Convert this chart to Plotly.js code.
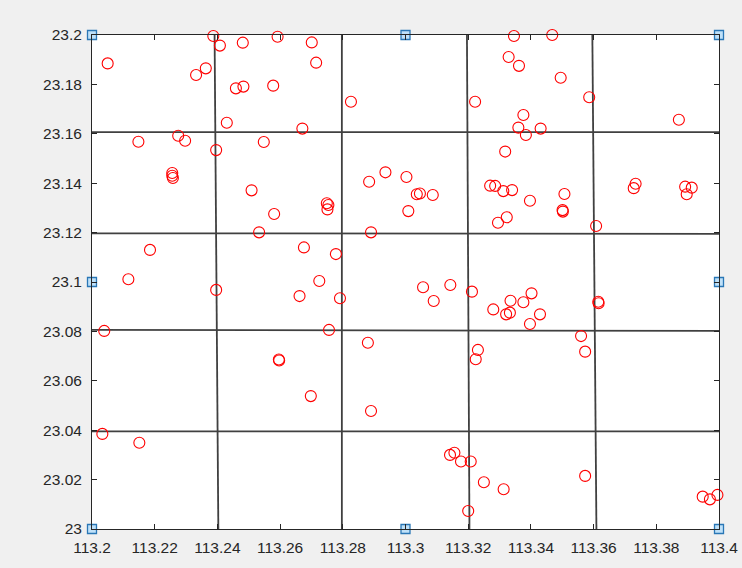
<!DOCTYPE html>
<html>
<head>
<meta charset="utf-8">
<script src="https://cdn.plot.ly/plotly-3.0.1.min.js"></script>
<style>
html,body{margin:0;padding:0;background:#f0f0f0;}
#chart{width:742px;height:568px;}
</style>
</head>
<body>
<div id="chart"></div>
<script>
// Scatter points (longitude, latitude)
const lon = [
113.2050,113.2387,113.2408,113.2481,113.2592,113.2363,113.2332,113.2459,113.2483,113.2578,
113.2430,113.2671,113.2148,113.2275,113.2297,113.2396,113.2548,113.2256,113.2256,113.2258,
113.2509,113.2701,113.2715,113.2826,113.3222,113.3346,113.3329,113.3362,113.3318,113.2884,
113.2936,113.3003,113.3036,113.3046,113.3087,113.2749,113.2754,113.2751,113.3270,113.3286,
113.3312,113.3340,113.3468,113.3495,113.3586,113.3872,113.3376,113.3360,113.3384,113.3431,
113.3397,113.3507,113.3728,113.3734,113.3892,113.3913,113.3897,113.2581,113.2533,113.2676,
113.2185,113.2116,113.2396,113.2662,113.2039,113.2596,113.2597,113.3009,113.2890,113.3323,
113.3295,113.2778,113.2725,113.2791,113.3056,113.3143,113.3090,113.3212,113.3335,113.3280,
113.3321,113.3333,113.2756,113.2880,113.3231,113.3224,113.3501,113.3502,113.3608,113.3402,
113.3376,113.3429,113.3397,113.3615,113.3616,113.3560,113.3573,113.2033,113.2151,113.2698,
113.2890,113.3142,113.3156,113.3177,113.3208,113.3250,113.3313,113.3200,113.3573,113.3948,
113.3971,113.3995
];
const lat = [
23.1885,23.1996,23.1957,23.1969,23.1993,23.1865,23.1838,23.1784,23.1791,23.1795,
23.1645,23.1621,23.1568,23.1592,23.1572,23.1534,23.1567,23.1441,23.1430,23.1421,
23.1371,23.1970,23.1888,23.1730,23.1730,23.1996,23.1911,23.1875,23.1528,23.1406,
23.1444,23.1425,23.1355,23.1358,23.1352,23.1319,23.1312,23.1294,23.1390,23.1389,
23.1368,23.1372,23.2000,23.1827,23.1748,23.1657,23.1676,23.1625,23.1595,23.1621,
23.1329,23.1356,23.1380,23.1398,23.1386,23.1382,23.1355,23.1275,23.1201,23.1140,
23.1130,23.1011,23.0968,23.0943,23.0802,23.0686,23.0682,23.1287,23.1201,23.1262,
23.1240,23.1113,23.1004,23.0934,23.0979,23.0988,23.0923,23.0961,23.0924,23.0889,
23.0869,23.0876,23.0806,23.0754,23.0725,23.0687,23.1291,23.1285,23.1227,23.0954,
23.0918,23.0869,23.0830,23.0920,23.0914,23.0781,23.0718,23.0385,23.0349,23.0538,
23.0478,23.0300,23.0309,23.0273,23.0273,23.0189,23.0161,23.0073,23.0215,23.0131,
23.0120,23.0138
];

// Hand-drawn grid lines
const vLineXTop    = [113.2391, 113.2797, 113.3196, 113.3596];
const vLineXBottom = [113.2403, 113.2797, 113.3204, 113.3609];
const hLineYLeft   = [23.1607, 23.1197, 23.0806, 23.0395];
const hLineYRight  = [23.1607, 23.1195, 23.0802, 23.0395];

// Handle markers (edges / corners)
const handleX = [113.2, 113.3, 113.4, 113.2, 113.4, 113.2, 113.3, 113.4];
const handleY = [23.2, 23.2, 23.2, 23.1, 23.1, 23.0, 23.0, 23.0];

// Axis ranges and ticks
const xRange = [113.2, 113.4];
const yRange = [23.0, 23.2];
const xTickVals = [113.2,113.22,113.24,113.26,113.28,113.3,113.32,113.34,113.36,113.38,113.4];
const xTickText = ['113.2','113.22','113.24','113.26','113.28','113.3','113.32','113.34','113.36','113.38','113.4'];
const yTickVals = [23.0,23.02,23.04,23.06,23.08,23.1,23.12,23.14,23.16,23.18,23.2];
const yTickText = ['23','23.02','23.04','23.06','23.08','23.1','23.12','23.14','23.16','23.18','23.2'];

const gx = [], gy = [];
for (let i = 0; i < vLineXTop.length; i++) {
  gx.push(vLineXTop[i], vLineXBottom[i], null);
  gy.push(yRange[1], yRange[0], null);
}
for (let i = 0; i < hLineYLeft.length; i++) {
  gx.push(xRange[0], xRange[1], null);
  gy.push(hLineYLeft[i], hLineYRight[i], null);
}

const traces = [
  {x: gx, y: gy, mode: 'lines', type: 'scatter', line: {color: '#404040', width: 1.8},
   hoverinfo: 'skip', cliponaxis: true},
  {x: lon, y: lat, mode: 'markers', type: 'scatter',
   marker: {symbol: 'circle-open', size: 11, color: '#ff0000', line: {width: 1.1, color: '#ff0000'}},
   cliponaxis: false},
  {x: handleX, y: handleY, mode: 'markers', type: 'scatter',
   marker: {symbol: 'square', size: 9, color: '#bfe1f9', line: {width: 1.3, color: '#2a77b6'}},
   cliponaxis: false}
];

const axisCommon = {
  showgrid: false, zeroline: false, showline: true, linecolor: '#262626', linewidth: 1,
  mirror: 'ticks', ticks: 'inside', ticklen: 5, tickcolor: '#262626', tickwidth: 1,
  tickfont: {family: 'Liberation Sans, Arial, sans-serif', size: 15.5, color: '#262626'},
  tickmode: 'array', fixedrange: true
};

const layout = {
  width: 742, height: 568,
  margin: {l: 92, r: 23, t: 35, b: 39, pad: 0},
  paper_bgcolor: '#f0f0f0', plot_bgcolor: '#ffffff',
  showlegend: false,
  xaxis: Object.assign({}, axisCommon, {range: xRange, tickvals: xTickVals, ticktext: xTickText, ticklabelstandoff: 4}),
  yaxis: Object.assign({}, axisCommon, {range: yRange, tickvals: yTickVals, ticktext: yTickText, ticklabelstandoff: 6})
};

Plotly.newPlot('chart', traces, layout, {staticPlot: true, displayModeBar: false});
</script>
</body>
</html>
